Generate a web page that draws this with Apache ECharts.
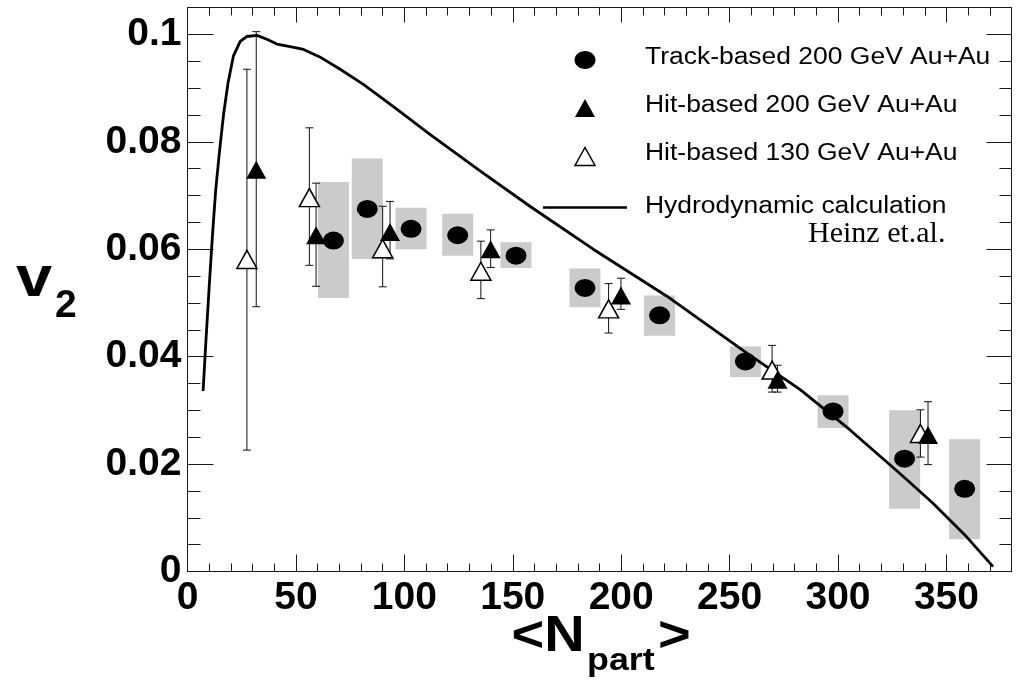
<!DOCTYPE html>
<html>
<head>
<meta charset="utf-8">
<script src="https://cdn.jsdelivr.net/npm/echarts@6/dist/echarts.min.js"></script>
<style>
html,body{margin:0;padding:0;background:#fff;}
#chart{width:1021px;height:681px;}
</style>
</head>
<body>
<div id="chart"></div>
<script>
// ---- data ----
var trackN      = [67.3, 82.9, 103.1, 124.6, 151.5, 183.3, 217.7, 257.3, 297.7, 330.7, 358.4];
var trackV2     = [0.0616, 0.0675, 0.0638, 0.0626, 0.0588, 0.0528, 0.0477, 0.0391, 0.0298, 0.0210, 0.0154];
var trackSysLo  = [0.0509, 0.0582, 0.0600, 0.0588, 0.0565, 0.0492, 0.0439, 0.0362, 0.0267, 0.0117, 0.0060];
var trackSysHi  = [0.0725, 0.0769, 0.0677, 0.0666, 0.0613, 0.0564, 0.0514, 0.0419, 0.0328, 0.0300, 0.0246];

var hit200N     = [31.7, 59.3, 93.4, 139.8, 199.9, 272.1, 341.5];
var hit200V2    = [0.0748, 0.0626, 0.0632, 0.0600, 0.0514, 0.0357, 0.0254];
var hit200Lo    = [0.0493, 0.0531, 0.0582, 0.0566, 0.0488, 0.0334, 0.0199];
var hit200Hi    = [0.1005, 0.0723, 0.0689, 0.0636, 0.0546, 0.0384, 0.0316];

var hit130N     = [27.4, 56.2, 90.0, 135.3, 194.2, 269.6, 338.0];
var hit130V2    = [0.0581, 0.0696, 0.0601, 0.0559, 0.0489, 0.0375, 0.0257];
var hit130Lo    = [0.0226, 0.0570, 0.0530, 0.0508, 0.0444, 0.0334, 0.0213];
var hit130Hi    = [0.0935, 0.0826, 0.0680, 0.0615, 0.0536, 0.0421, 0.0301];

var hydroN      = [7.2, 8.5, 10.0, 11.5, 13.0, 14.7, 16.6, 18.7, 21.2, 24.3, 27.4, 32.0, 36.6, 41.2, 47.3, 53.5, 61.0, 70.4, 81.1, 96.5, 111.8, 134.9, 157.9, 187.1, 220.9, 257.8, 282.4, 305.4, 328.4, 343.8, 359.2, 371.5];
var hydroV2     = [0.0336, 0.0430, 0.0530, 0.0625, 0.0710, 0.0780, 0.0850, 0.0910, 0.0960, 0.0987, 0.0996, 0.0998, 0.0991, 0.0982, 0.0977, 0.0972, 0.0958, 0.0935, 0.0907, 0.0861, 0.0814, 0.0746, 0.0680, 0.0600, 0.0513, 0.0407, 0.0339, 0.0264, 0.0183, 0.0127, 0.0065, 0.0009];

var xTickLabels = [0, 50, 100, 150, 200, 250, 300, 350];
var yTickLabels = [0, 0.02, 0.04, 0.06, 0.08, 0.1];

var legendNames = ['Track-based 200 GeV Au+Au', 'Hit-based 200 GeV Au+Au', 'Hit-based 130 GeV Au+Au', 'Hydrodynamic calculation'];
var legendNote  = 'Heinz et.al.';

// ---- build ----
function zip3(a, b, c) { return a.map(function (v, i) { return [v, b[i], c[i]]; }); }
function zip2(a, b) { return a.map(function (v, i) { return [v, b[i]]; }); }

var AX = '#1a1a1a';
var FONT = '"Liberation Sans", Arial, sans-serif';
var GRID = { left: 187.5, top: 7.5, right: 9.5, bottom: 109.5 };

function isIn(list, v) {
  for (var i = 0; i < list.length; i++) if (Math.abs(list[i] - v) < 1e-9) return true;
  return false;
}

function xAxisDef(grid, pos, interval, len, labels, line) {
  return {
    gridIndex: grid, type: 'value', position: pos, min: 0, max: 380, interval: interval,
    axisLine: { show: line, onZero: false, lineStyle: { color: AX, width: 1 } },
    axisTick: { show: true, inside: true, length: len, lineStyle: { color: AX, width: 1 } },
    splitLine: { show: false },
    axisLabel: labels ? {
      show: true, margin: 7, color: '#000', fontFamily: FONT, fontWeight: 'bold', fontSize: 39,
      formatter: function (v) { return isIn(xTickLabels, v) ? String(v) : ''; }
    } : { show: false }
  };
}
function yAxisDef(grid, pos, interval, len, labels, line) {
  return {
    gridIndex: grid, type: 'value', position: pos, min: 0, max: 0.105, interval: interval,
    axisLine: { show: line, onZero: false, lineStyle: { color: AX, width: 1 } },
    axisTick: { show: true, inside: true, length: len, lineStyle: { color: AX, width: 1 } },
    splitLine: { show: false },
    axisLabel: labels ? {
      show: true, margin: 6, color: '#000', fontFamily: FONT, fontWeight: 'bold', fontSize: 39,
      formatter: function (v) { return isIn(yTickLabels, v) ? String(+v.toFixed(3)) : ''; }
    } : { show: false }
  };
}

function errRender(params, api) {
  var x = api.value(0);
  var lo = api.coord([x, api.value(1)]);
  var hi = api.coord([x, api.value(2)]);
  var c = 4;
  var st = { stroke: '#111', lineWidth: 1 };
  return {
    type: 'group',
    children: [
      { type: 'line', shape: { x1: lo[0], y1: lo[1], x2: hi[0], y2: hi[1] }, style: st },
      { type: 'line', shape: { x1: lo[0] - c, y1: lo[1], x2: lo[0] + c, y2: lo[1] }, style: st },
      { type: 'line', shape: { x1: hi[0] - c, y1: hi[1], x2: hi[0] + c, y2: hi[1] }, style: st }
    ]
  };
}
function boxRender(params, api) {
  var x = api.value(0);
  var lo = api.coord([x, api.value(1)]);
  var hi = api.coord([x, api.value(2)]);
  var w = 31;
  return {
    type: 'rect',
    shape: { x: lo[0] - w / 2, y: hi[1], width: w, height: lo[1] - hi[1] },
    style: { fill: '#cbcbcb' }
  };
}

var legendFont = '23px ' + FONT;
var legY = [57.5, 106, 154, 207];

var option = {
  animation: false,
  backgroundColor: '#fff',
  grid: [
    Object.assign({}, GRID), Object.assign({}, GRID), Object.assign({}, GRID), Object.assign({}, GRID)
  ],
  xAxis: [
    xAxisDef(0, 'bottom', 10, 8, true, true),
    xAxisDef(1, 'top', 10, 8, false, true),
    xAxisDef(2, 'bottom', 50, 17, false, false),
    xAxisDef(3, 'top', 50, 15, false, false)
  ],
  yAxis: [
    yAxisDef(0, 'left', 0.005, 13, true, true),
    yAxisDef(1, 'right', 0.005, 12, false, true),
    yAxisDef(2, 'left', 0.02, 26, false, false),
    yAxisDef(3, 'right', 0.02, 25, false, false)
  ],
  series: [
    { type: 'custom', name: 'sys', renderItem: boxRender, data: zip3(trackN, trackSysLo, trackSysHi), z: 1, silent: true },
    { type: 'line', name: legendNames[3], data: zip2(hydroN, hydroV2), showSymbol: false, smooth: false,
      lineStyle: { color: '#000', width: 2.8, join: 'round' }, z: 2, silent: true },
    { type: 'custom', name: 'err200', renderItem: errRender, data: zip3(hit200N, hit200Lo, hit200Hi), z: 3, silent: true },
    { type: 'custom', name: 'err130', renderItem: errRender, data: zip3(hit130N, hit130Lo, hit130Hi), z: 3, silent: true },
    { type: 'scatter', name: legendNames[0], data: zip2(trackN, trackV2), symbol: 'circle', symbolSize: [21, 18],
      itemStyle: { color: '#000', opacity: 1 }, z: 4, silent: true },
    { type: 'scatter', name: legendNames[2], data: zip2(hit130N, hit130V2), symbol: 'triangle', symbolSize: [20, 18],
      itemStyle: { color: '#fff', borderColor: '#000', borderWidth: 1.5, opacity: 1 }, z: 4, silent: true },
    { type: 'scatter', name: legendNames[1], data: zip2(hit200N, hit200V2), symbol: 'triangle', symbolSize: [20, 18],
      itemStyle: { color: '#000', opacity: 1 }, z: 5, silent: true }
  ],
  graphic: [
    // legend
    { type: 'ellipse', shape: { cx: 585, cy: 60, rx: 10.5, ry: 9 }, style: { fill: '#000' } },
    { type: 'polygon', shape: { points: [[575, 117], [595, 117], [585, 99]] }, style: { fill: '#000' } },
    { type: 'polygon', shape: { points: [[575, 165.5], [595, 165.5], [585, 147.5]] }, style: { fill: '#fff', stroke: '#000', lineWidth: 1.5 } },
    { type: 'line', shape: { x1: 543, y1: 207.5, x2: 627, y2: 207.5 }, style: { stroke: '#000', lineWidth: 2.5 } },
    { type: 'text', x: 645, y: legY[0], scaleX: 1.15, style: { text: legendNames[0], font: legendFont, fill: '#000', align: 'left', verticalAlign: 'middle' } },
    { type: 'text', x: 645, y: legY[1], scaleX: 1.15, style: { text: legendNames[1], font: legendFont, fill: '#000', align: 'left', verticalAlign: 'middle' } },
    { type: 'text', x: 645, y: legY[2], scaleX: 1.15, style: { text: legendNames[2], font: legendFont, fill: '#000', align: 'left', verticalAlign: 'middle' } },
    { type: 'text', x: 645, y: legY[3], scaleX: 1.15, style: { text: legendNames[3], font: legendFont, fill: '#000', align: 'left', verticalAlign: 'middle' } },
    { type: 'text', x: 808, y: 234, style: { text: legendNote, font: '30px "Liberation Serif", "Times New Roman", serif', fill: '#000', align: 'left', verticalAlign: 'middle' } },
    // y-axis title v_2
    { type: 'text', x: 16, y: 280, scaleX: 1.12, style: { text: 'v', font: 'bold 58px ' + FONT, fill: '#000', align: 'left', verticalAlign: 'middle' } },
    { type: 'text', x: 55, y: 306, style: { text: '2', font: 'bold 39px ' + FONT, fill: '#000', align: 'left', verticalAlign: 'middle' } },
    // x-axis title <N_part>
    { type: 'text', x: 511.5, y: 637.5, scaleX: 1.12, style: { text: '<N', font: 'bold 50px ' + FONT, fill: '#000', align: 'left', verticalAlign: 'middle' } },
    { type: 'text', x: 587, y: 661, scaleX: 1.12, style: { text: 'part', font: 'bold 32px ' + FONT, fill: '#000', align: 'left', verticalAlign: 'middle' } },
    { type: 'text', x: 658, y: 637.5, scaleX: 1.12, style: { text: '>', font: 'bold 50px ' + FONT, fill: '#000', align: 'left', verticalAlign: 'middle' } }
  ]
};

var chart = echarts.init(document.getElementById('chart'), null, { renderer: 'canvas' });
chart.setOption(option);
</script>
</body>
</html>
